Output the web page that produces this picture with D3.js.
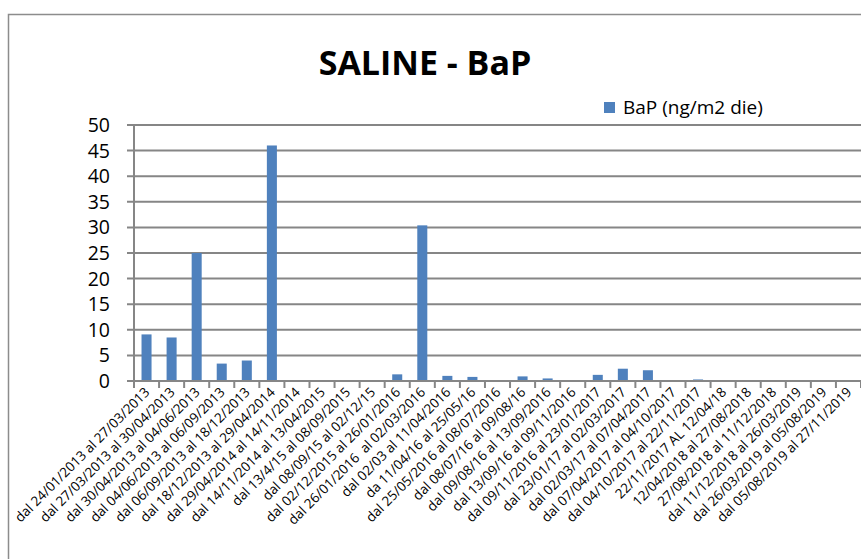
<!DOCTYPE html>
<html><head><meta charset="utf-8">
<script src="https://cdn.jsdelivr.net/npm/d3@7"></script>
<style>body{margin:0;background:#fff;overflow:hidden}</style>
</head><body>
<script>
const categories = [
"dal 24/01/2013 al 27/03/2013","dal 27/03/2013 al 30/04/2013","dal 30/04/2013 al 04/06/2013",
"dal 04/06/2013 al 06/09/2013","dal 06/09/2013 al 18/12/2013","dal 18/12/2013 al 29/04/2014",
"dal 29/04/2014 al 14/11/2014","dal 14/11/2014 al 13/04/2015","dal 13/4/15 al 08/09/2015",
"dal 08/09/15 al 02/12/15","dal 02/12/2015 al 26/01/2016","dal 26/01/2016  al 02/03/2016",
"dal 02/03 al 11/04/2016","da 11/04/16 al 25/05/16","dal 25/05/2016 al 08/07/2016",
"dal 08/07/16 al 09/08/16","dal 09/08/16 al 13/09/2016","dal 13/09/16 al 09/11/2016",
"dal 09/11/2016 al 23/01/2017","dal 23/01/17 al 02/03/2017","dal 02/03/17 al 07/04/2017",
"dal 07/04/2017 al 04/10/2017","dal 04/10/2017 al 22/11/2017","22/11/2017 AL 12/04/18",
"12/04/2018 al 27/08/2018","27/08/2018 al 11/12/2018","dal 11/12/2018 al 26/03/2019",
"dal 26/03/2019 al 05/08/2019","dal 05/08/2019 al 27/11/2019"];
const bapValues = [9.1,8.5,25.0,3.4,4.0,46.0,0.1,0.1,0.1,0.1,1.3,30.4,1.0,0.8,0.1,0.9,0.5,0.1,1.2,2.4,2.1,0.1,0.3,0.1,0.1,0.1,0.1,0.1,0.1];
const yTicks = [0,5,10,15,20,25,30,35,40,45,50];
const seriesName = "BaP (ng/m2 die)";
const chartTitle = "SALINE - BaP";

(function(){
const W = 861, H = 559;
const svg = d3.select("body").append("svg").attr("width", W).attr("height", H);
const font = "'Open Sans', 'Liberation Sans', sans-serif";
const gridCol = "#868686";

svg.append("rect").attr("x", 8.5).attr("y", 14.5).attr("width", 900).attr("height", 600)
  .attr("fill", "#fff").attr("stroke", "#8c8c8c").attr("stroke-width", 1.5);

const pLeft = 134, pRight = 861, pTop = 125, pBottom = 381;
const x = d3.scaleBand().domain(categories).range([pLeft, pRight]).padding(0);
const y = d3.scaleLinear().domain([0, 50]).range([pBottom, pTop]);

svg.append("g").selectAll("line").data(yTicks).join("line")
  .attr("x1", pLeft - 7).attr("x2", pRight).attr("y1", d => y(d)).attr("y2", d => y(d))
  .attr("stroke", gridCol).attr("stroke-width", 2);

svg.append("line").attr("x1", pLeft).attr("x2", pLeft).attr("y1", pTop).attr("y2", pBottom + 1)
  .attr("stroke", gridCol).attr("stroke-width", 2);

svg.append("g").selectAll("text").data(yTicks).join("text")
  .attr("x", 110).attr("y", d => y(d)).attr("dy", "0.36em")
  .attr("text-anchor", "end").attr("font-family", font).attr("font-size", 19.5)
  .attr("fill", "#000").text(d => d);

const bw = x.bandwidth() / 2.5;
svg.append("g").selectAll("rect").data(bapValues).join("rect")
  .attr("x", (d, i) => x(categories[i]) + (x.bandwidth() - bw) / 2)
  .attr("width", bw)
  .attr("y", d => y(d)).attr("height", d => pBottom - y(d))
  .attr("fill", "#4F81BD");

svg.append("line").attr("x1", pLeft).attr("x2", pRight).attr("y1", pBottom).attr("y2", pBottom)
  .attr("stroke", gridCol).attr("stroke-width", 2);

const bounds = categories.map(c => x(c)).concat([x(categories[categories.length - 1]) + x.bandwidth()]);
svg.append("g").selectAll("line").data(bounds).join("line")
  .attr("x1", d => d).attr("x2", d => d).attr("y1", pBottom).attr("y2", pBottom + 7)
  .attr("stroke", gridCol).attr("stroke-width", 2);

svg.append("g").selectAll("text").data(categories).join("text")
  .attr("transform", c => `translate(${x(c) + x.bandwidth() / 2 + 4},${pBottom + 12}) rotate(-45)`)
  .attr("text-anchor", "end").attr("font-family", font).attr("font-size", 13.5)
  .attr("fill", "#000").style("white-space", "pre").text(c => c);

svg.append("text").attr("x", 425).attr("y", 75).attr("text-anchor", "middle")
  .attr("font-family", font).attr("font-weight", "bold").attr("font-size", 34)
  .attr("fill", "#000").text(chartTitle);

svg.append("rect").attr("x", 604).attr("y", 102).attr("width", 11).attr("height", 11).attr("fill", "#4F81BD");
svg.append("text").attr("x", 623).attr("y", 113.5).attr("font-family", font).attr("font-size", 19)
  .attr("fill", "#000").text(seriesName);
})();
</script>
</body></html>
